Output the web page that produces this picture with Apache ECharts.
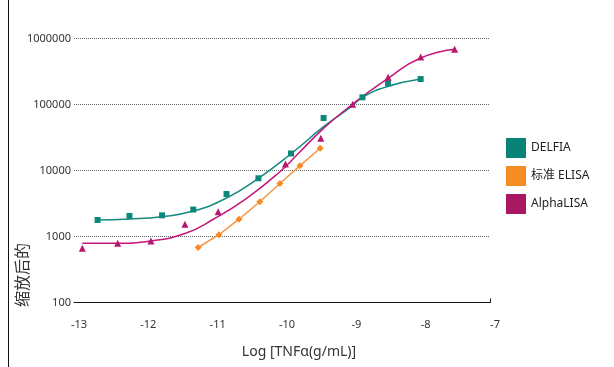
<!DOCTYPE html>
<html>
<head>
<meta charset="utf-8">
<script src="https://cdn.jsdelivr.net/npm/echarts@6/dist/echarts.min.js"></script>
<style>
  html, body { margin: 0; padding: 0; background: #fff; }
  #chart { width: 614px; height: 367px; }
</style>
</head>
<body>
<div id="chart"></div>
<script>
// log concentration (x) and signal (y)
const delfiaX = [-12.66, -12.2, -11.73, -11.28, -10.8, -10.34, -9.87, -9.4, -8.84, -8.47, -8.0];
const delfiaY = [1780, 2050, 2090, 2560, 4400, 7620, 18100, 62400, 128500, 209500, 243000];
const delfiaFitX = [-12.69, -12.19, -11.74, -11.28, -10.8, -10.34, -9.86, -9.4, -9.0, -8.84, -8.49, -8.02];
const delfiaFitY = [1780, 1840, 1995, 2430, 3830, 7620, 18240, 46100, 92700, 128500, 186000, 241000];

const elisaX = [-11.21, -10.91, -10.62, -10.32, -10.03, -9.74, -9.45];
const elisaY = [681, 1064, 1828, 3365, 6353, 11830, 21700];

const alphaX = [-12.88, -12.37, -11.89, -11.4, -10.92, -9.95, -9.44, -8.98, -8.47, -8.0, -7.51];
const alphaY = [662, 789, 855, 1531, 2377, 12540, 30800, 100700, 258000, 525000, 686000];
const alphaFitX = [-12.88, -12.38, -11.89, -11.4, -10.99, -10.51, -10.03, -9.74, -9.4, -9.0, -8.47, -8.01, -7.51];
const alphaFitY = [789, 789, 855, 1109, 1824, 3793, 9590, 19280, 43500, 98200, 249000, 501000, 686000];

const xTicks = [-13, -12, -11, -10, -9, -8, -7];
const names = ['DELFIA', '标准 ELISA', 'AlphaLISA'];
const colors = ['#0a8377', '#f58d22', '#a8175f'];
const markColors = ['#0b887b', '#f68b26', '#b8166f'];
const lineColors = ['#168a7f', '#f39443', '#c4177b'];

const zip = (xs, ys) => xs.map((x, i) => [x, ys[i]]);

const chart = echarts.init(document.getElementById('chart'));
const font = "'Noto Sans', 'Noto Sans CJK SC', sans-serif";

chart.setOption({
  animation: false,
  textStyle: { fontFamily: font },
  grid: { left: 74, right: 124, top: 38.5, bottom: 64.5 },
  legend: {
    orient: 'vertical',
    left: 501,
    top: 133,
    itemWidth: 20,
    itemHeight: 20,
    itemGap: 8,
    icon: 'rect',
    textStyle: { fontSize: 12, color: '#222', fontFamily: font },
    data: names.map((n, i) => ({ name: n, itemStyle: { color: colors[i], opacity: 1 } }))
  },
  xAxis: {
    type: 'value',
    min: -13,
    max: -7,
    interval: 1,
    axisLine: { lineStyle: { color: '#111', width: 1 } },
    axisTick: { show: true, inside: true, length: 4, customValues: [-7], lineStyle: { color: '#111' } },
    axisLabel: {
      customValues: xTicks,
      color: '#333',
      fontSize: 11,
      margin: 17,
      padding: [0, 0, 0, 10]
    },
    splitLine: { show: false }
  },
  yAxis: {
    type: 'log',
    logBase: 10,
    min: 100,
    max: 1000000,
    axisLine: { show: false },
    axisTick: { show: false },
    axisLabel: {
      color: '#333',
      fontSize: 11,
      margin: 3,
      formatter: v => String(Math.round(v))
    },
    splitLine: { lineStyle: { color: '#666', type: 'dotted', width: 1 } }
  },
  graphic: [
    { type: 'line', shape: { x1: 8.5, y1: 0, x2: 8.5, y2: 367 }, style: { stroke: '#111', lineWidth: 1 } },
    {
      type: 'text', x: 299, y: 352,
      style: { text: 'Log [TNFα(g/mL)]', fontSize: 14, fill: '#333', fontFamily: font, align: 'center', verticalAlign: 'middle' }
    },
    {
      type: 'text', x: 23, y: 275, rotation: Math.PI / 2,
      style: { text: '缩放后的', fontSize: 16, fill: '#333', fontFamily: font, align: 'center', verticalAlign: 'middle' }
    }
  ],
  series: [
    {
      name: 'DELFIA fit', type: 'line', smooth: true, showSymbol: false,
      data: zip(delfiaFitX, delfiaFitY),
      lineStyle: { color: lineColors[0], width: 1.5 }, z: 2
    },
    {
      name: 'AlphaLISA fit', type: 'line', smooth: true, showSymbol: false,
      data: zip(alphaFitX, alphaFitY),
      lineStyle: { color: lineColors[2], width: 1.5 }, z: 2
    },
    {
      name: names[1], type: 'line', smooth: false,
      data: zip(elisaX, elisaY),
      symbol: 'diamond', symbolSize: 7,
      itemStyle: { color: markColors[1], opacity: 1 },
      lineStyle: { color: lineColors[1], width: 1.5 }, z: 3
    },
    {
      name: names[0], type: 'scatter', symbol: 'rect', symbolSize: 6,
      data: zip(delfiaX, delfiaY),
      itemStyle: { color: markColors[0], opacity: 1 }, z: 4
    },
    {
      name: names[2], type: 'scatter', symbol: 'triangle', symbolSize: 7,
      data: zip(alphaX, alphaY),
      itemStyle: { color: markColors[2], opacity: 1 }, z: 4
    }
  ]
});
</script>
</body>
</html>
